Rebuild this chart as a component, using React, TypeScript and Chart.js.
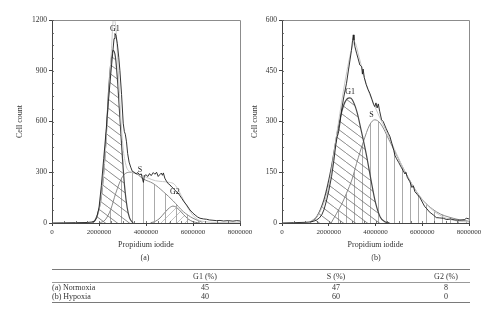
import React, { useEffect, useRef } from "react";
import { Chart, registerables } from "chart.js";
Chart.register(...registerables);

const FONT = "'Liberation Serif', 'DejaVu Serif', serif";
const X_MAX = 8000000;
const X_STEP = 2000000;
const MEGA = 1000000;

// ---------- Panel (a) Normoxia (x in millions) ----------
const histAX = [0, 0.5, 1.0, 1.5, 1.7, 1.8, 1.9, 2.0, 2.1, 2.2, 2.3, 2.4, 2.5, 2.58, 2.64, 2.68, 2.72, 2.78, 2.84, 2.89, 2.96, 3.03, 3.08, 3.12, 3.17, 3.22, 3.28, 3.35, 3.42, 3.5, 3.58, 3.65, 3.72, 3.8, 3.86, 3.89, 3.93, 4.0, 4.08, 4.15, 4.22, 4.31, 4.38, 4.45, 4.52, 4.58, 4.65, 4.7, 4.74, 4.8, 4.88, 4.95, 5.02, 5.1, 5.16, 5.27, 5.38, 5.52, 5.62, 5.73, 5.87, 6.0, 6.09, 6.2, 6.3, 6.45, 6.58, 6.7, 6.85, 7.0, 7.15, 7.3, 7.5, 7.7, 7.86, 8.0];
const histAY = [0, 1, 2, 3, 6, 10, 30, 90, 220, 380, 540, 720, 880, 1000, 1090, 1120, 1110, 1060, 980, 900, 760, 590, 540, 525, 480, 410, 360, 330, 305, 300, 290, 298, 285, 290, 255, 240, 280, 285, 275, 292, 280, 298, 288, 300, 275, 285, 295, 282, 296, 265, 245, 232, 225, 212, 205, 188, 175, 146, 125, 106, 77, 58, 47, 35, 28, 24, 22, 18, 16, 14, 15, 12, 14, 11, 14, 12];
const fitAX = [1.6, 1.8, 1.95, 2.1, 2.25, 2.4, 2.52, 2.62, 2.72, 2.82, 2.92, 3.02, 3.15, 3.3, 3.5, 3.8, 4.1, 4.4, 4.7, 5.0, 5.2, 5.4, 5.6, 5.8, 6.0, 6.2, 6.5, 7.0, 8.0];
const fitAY = [0, 12, 50, 160, 380, 720, 1000, 1210, 1150, 900, 640, 450, 340, 305, 298, 285, 265, 250, 245, 240, 230, 190, 135, 85, 45, 20, 8, 3, 1];
const g1AX = [1.7, 1.85, 2.0, 2.1, 2.2, 2.3, 2.4, 2.5, 2.6, 2.7, 2.8, 2.9, 3.0, 3.1, 3.2, 3.3, 3.45];
const g1AY = [0, 20, 80, 160, 300, 500, 760, 940, 1020, 980, 820, 600, 380, 200, 90, 30, 0];
const sAX = [2.0, 2.26, 2.5, 2.71, 3.0, 3.3, 3.6, 3.89, 4.3, 4.74, 5.16, 5.59, 6.0, 6.4];
const sAY = [0, 18, 80, 175, 274, 300, 290, 260, 234, 185, 130, 67, 28, 4];
const g2AX = [4.2, 4.4, 4.6, 4.8, 5.0, 5.15, 5.3, 5.5, 5.7, 5.9, 6.1, 6.3];
const g2AY = [2, 10, 30, 62, 90, 100, 92, 65, 35, 14, 4, 0];
const labelsA = ["G1", "S", "G2"];
const labelAX = [2.68, 3.74, 5.23];
const labelAY = [1146, 313, 183];

// ---------- Panel (b) Hypoxia (x in millions) ----------
const histBX = [0, 0.5, 1.0, 1.2, 1.35, 1.48, 1.6, 1.7, 1.8, 1.91, 2.0, 2.12, 2.22, 2.3, 2.36, 2.41, 2.48, 2.55, 2.65, 2.76, 2.85, 2.91, 2.97, 3.02, 3.05, 3.08, 3.12, 3.19, 3.26, 3.33, 3.41, 3.44, 3.47, 3.52, 3.6, 3.68, 3.76, 3.85, 3.92, 3.97, 4.02, 4.07, 4.12, 4.18, 4.26, 4.33, 4.45, 4.55, 4.62, 4.7, 4.78, 4.83, 4.9, 5.0, 5.1, 5.18, 5.26, 5.3, 5.36, 5.47, 5.56, 5.62, 5.68, 5.78, 5.9, 6.0, 6.11, 6.2, 6.3, 6.47, 6.6, 6.75, 6.9, 7.05, 7.2, 7.4, 7.6, 7.8, 7.9, 8.0];
const histBY = [0, 1, 2, 3, 5, 9, 15, 24, 40, 68, 95, 137, 185, 230, 255, 265, 295, 334, 375, 413, 455, 482, 510, 540, 556, 540, 521, 502, 485, 467, 462, 440, 455, 430, 410, 395, 383, 365, 350, 344, 355, 340, 352, 330, 305, 300, 280, 265, 255, 235, 215, 200, 190, 178, 165, 155, 145, 150, 135, 122, 105, 110, 93, 85, 75, 62, 48, 42, 33, 24, 16, 15, 14, 10, 12, 9, 8, 10, 14, 12];
const fitBX = [1.2, 1.6, 2.0, 2.4, 2.7, 3.0, 3.1, 3.3, 3.6, 4.0, 4.4, 4.8, 5.2, 5.6, 6.0, 6.5, 7.0, 7.5, 8.0];
const fitBY = [2, 30, 110, 290, 420, 520, 535, 490, 410, 340, 280, 220, 160, 110, 70, 35, 15, 6, 3];
const g1BX = [1.2, 1.5, 1.8, 2.1, 2.4, 2.6, 2.8, 2.9, 3.0, 3.2, 3.4, 3.6, 3.8, 4.0, 4.2, 4.4, 4.6];
const g1BY = [2, 20, 70, 160, 280, 340, 368, 370, 365, 330, 270, 205, 130, 60, 18, 4, 0];
const sBX = [2.1, 2.34, 2.55, 2.76, 3.0, 3.19, 3.48, 3.75, 3.97, 4.2, 4.62, 5.26, 5.9, 6.61, 7.32, 8.0];
const sBY = [0, 29, 55, 88, 130, 176, 240, 290, 305, 295, 240, 152, 78, 33, 14, 5];
const labelsB = ["G1", "S"];
const labelBX = [2.91, 3.83];
const labelBY = [388, 319];

// ---------- Table ----------
const tableHeads = ["G1 (%)", "S (%)", "G2 (%)"];
const tableRows = ["(a) Normoxia", "(b) Hypoxia"];
const tableG1 = [45, 40];
const tableS = [47, 60];
const tableG2 = [8, 0];

type Panel = {
  yMax: number;
  yStep: number;
  yAxisW: number;
  titlePad: number;
  padRight: number;
  stripe: number;
  series: { x: number[]; y: number[]; kind: string }[];
  labels: string[];
  labelX: number[];
  labelY: number[];
};

function hatch(ctx: CanvasRenderingContext2D, w: number, h: number, color: string, lw: number, flip: boolean) {
  const c = document.createElement("canvas");
  c.width = w;
  c.height = h;
  const g = c.getContext("2d")!;
  g.strokeStyle = color;
  g.lineWidth = lw;
  g.beginPath();
  for (let k = -1; k <= 1; k++) {
    if (!flip) {
      g.moveTo(k * w, 0);
      g.lineTo(k * w + w, h);
    } else {
      g.moveTo(k * w, h);
      g.lineTo(k * w + w, 0);
    }
  }
  g.stroke();
  return ctx.createPattern(c, "repeat")!;
}

function stripes(ctx: CanvasRenderingContext2D, w: number, color: string) {
  const c = document.createElement("canvas");
  c.width = w;
  c.height = 4;
  const g = c.getContext("2d")!;
  g.strokeStyle = color;
  g.lineWidth = 0.9;
  g.beginPath();
  g.moveTo(0.5, 0);
  g.lineTo(0.5, 4);
  g.stroke();
  return ctx.createPattern(c, "repeat")!;
}

function buildChart(canvas: HTMLCanvasElement, p: Panel) {
  const ctx = canvas.getContext("2d")!;
  const pts = (xs: number[], ys: number[]) => xs.map((x, i) => ({ x: x * MEGA, y: ys[i] }));
  const datasets = p.series.map((s) => {
    const base: any = {
      data: pts(s.x, s.y),
      pointRadius: 0,
      fill: false,
      borderWidth: 1,
    };
    if (s.kind === "hist") {
      base.borderColor = "#1e1e1e";
      base.borderWidth = 0.9;
      base.tension = 0;
    } else if (s.kind === "fit") {
      base.borderColor = "#c8c8c8";
      base.cubicInterpolationMode = "monotone";
    } else if (s.kind === "g1") {
      base.borderColor = "#474747";
      base.borderWidth = 1.2;
      base.cubicInterpolationMode = "monotone";
      base.fill = "origin";
      base.backgroundColor = hatch(ctx, 12, 9, "#666", 0.75, false);
    } else if (s.kind === "s") {
      base.borderColor = "#8a8a8a";
      base.cubicInterpolationMode = "monotone";
      base.fill = "origin";
      base.backgroundColor = stripes(ctx, p.stripe, "#a0a0a0");
    } else if (s.kind === "g2") {
      base.borderColor = "#808080";
      base.cubicInterpolationMode = "monotone";
      base.fill = "origin";
      base.backgroundColor = hatch(ctx, 8, 8, "#9a9a9a", 0.6, true);
    }
    return base;
  });

  const decor = {
    id: "decor",
    afterDraw(chart: any) {
      const c = chart.ctx;
      const a = chart.chartArea;
      const xs = chart.scales.x;
      const ys = chart.scales.y;
      c.save();
      c.strokeStyle = "#8c8c8c";
      c.lineWidth = 1;
      c.beginPath();
      c.moveTo(a.left, Math.round(a.top) + 0.5);
      c.lineTo(Math.round(a.right) + 0.5, Math.round(a.top) + 0.5);
      c.lineTo(Math.round(a.right) + 0.5, a.bottom);
      c.stroke();
      c.strokeStyle = "#555";
      c.lineWidth = 0.8;
      c.beginPath();
      for (let v = 0; v <= p.yMax + 1e-6; v += p.yStep / 4) {
        const py = Math.round(ys.getPixelForValue(v)) + 0.5;
        c.moveTo(a.left, py);
        c.lineTo(a.left + 2, py);
      }
      for (let v = 0; v <= X_MAX; v += X_STEP / 4) {
        const px = Math.round(xs.getPixelForValue(v)) + 0.5;
        c.moveTo(px, a.bottom);
        c.lineTo(px, a.bottom - 2);
      }
      c.stroke();
      c.fillStyle = "#222";
      c.font = `8px ${FONT}`;
      c.textAlign = "center";
      c.textBaseline = "middle";
      p.labels.forEach((t, i) => {
        c.fillText(t, xs.getPixelForValue(p.labelX[i] * MEGA), ys.getPixelForValue(p.labelY[i]));
      });
      c.restore();
    },
  };

  return new Chart(canvas, {
    type: "line",
    data: { datasets },
    plugins: [decor],
    options: {
      animation: false,
      responsive: false,
      parsing: false as any,
      layout: { padding: { top: 20, right: p.padRight, left: 0, bottom: 0 } },
      plugins: { legend: { display: false }, tooltip: { enabled: false } },
      scales: {
        x: {
          type: "linear",
          min: 0,
          max: X_MAX,
          ticks: {
            stepSize: X_STEP,
            autoSkip: false,
            maxRotation: 0,
            callback: (v: any) => String(v),
            font: { family: FONT, size: 7 },
            color: "#333",
            padding: 2,
          },
          grid: { drawOnChartArea: false, drawTicks: true, tickLength: 3, color: "#444" },
          border: { color: "#444", width: 1 },
          title: {
            display: true,
            text: "Propidium iodide",
            font: { family: FONT, size: 8 },
            color: "#333",
            padding: { top: 0, bottom: 3 },
          },
          afterFit: (s: any) => {
            s.height = 30;
          },
        },
        y: {
          type: "linear",
          min: 0,
          max: p.yMax,
          ticks: {
            stepSize: p.yStep,
            callback: (v: any) => String(v),
            font: { family: FONT, size: 7.5 },
            color: "#333",
            padding: 2,
          },
          grid: { drawOnChartArea: false, drawTicks: true, tickLength: 3, color: "#444" },
          border: { color: "#444", width: 1 },
          title: {
            display: true,
            text: "Cell count",
            font: { family: FONT, size: 8 },
            color: "#333",
            padding: { top: p.titlePad, bottom: 0 },
          },
          afterFit: (s: any) => {
            s.width = p.yAxisW;
          },
        },
      },
    },
  } as any);
}

const panelA: Panel = {
  yMax: 1200,
  yStep: 300,
  yAxisW: 52,
  titlePad: 15,
  padRight: 30,
  stripe: 11,
  series: [
    { x: histAX, y: histAY, kind: "hist" },
    { x: fitAX, y: fitAY, kind: "fit" },
    { x: g1AX, y: g1AY, kind: "g1" },
    { x: sAX, y: sAY, kind: "s" },
    { x: g2AX, y: g2AY, kind: "g2" },
  ],
  labels: labelsA,
  labelX: labelAX,
  labelY: labelAY,
};

const panelB: Panel = {
  yMax: 600,
  yStep: 150,
  yAxisW: 32,
  titlePad: 0,
  padRight: 31,
  stripe: 8,
  series: [
    { x: histBX, y: histBY, kind: "hist" },
    { x: fitBX, y: fitBY, kind: "fit" },
    { x: g1BX, y: g1BY, kind: "g1" },
    { x: sBX, y: sBY, kind: "s" },
  ],
  labels: labelsB,
  labelX: labelBX,
  labelY: labelBY,
};

function ChartCanvas({ panel, left, width }: { panel: Panel; left: number; width: number }) {
  const ref = useRef<HTMLCanvasElement>(null);
  useEffect(() => {
    const ch = buildChart(ref.current!, panel);
    return () => ch.destroy();
  }, [panel]);
  return (
    <canvas
      ref={ref}
      width={width}
      height={253}
      style={{ position: "absolute", left, top: 0, width, height: 253 }}
    />
  );
}

const txt: React.CSSProperties = {
  position: "absolute",
  fontFamily: FONT,
  fontSize: 8,
  color: "#333",
  lineHeight: "10px",
  whiteSpace: "nowrap",
  willChange: "transform",
};

function Centered({ x, y, children }: { x: number; y: number; children: React.ReactNode }) {
  return <div style={{ ...txt, left: x, top: y, transform: "translate(-50%, -50%)" }}>{children}</div>;
}

function LeftText({ x, y, children }: { x: number; y: number; children: React.ReactNode }) {
  return <div style={{ ...txt, left: x, top: y, transform: "translate(0.01px, -50%)" }}>{children}</div>;
}

export default function App() {
  const colX = [205, 336, 446];
  const rowY = [287.5, 296.5];
  return (
    <div style={{ position: "absolute", left: 0, top: 0, width: 500, height: 321, background: "#fff", overflow: "hidden" }}>
      <ChartCanvas panel={panelA} left={0} width={270} />
      <ChartCanvas panel={panelB} left={250} width={250} />
      <Centered x={145} y={258}>(a)</Centered>
      <Centered x={376} y={258}>(b)</Centered>
      <div style={{ position: "absolute", left: 52, top: 268.5, width: 418, height: 1.3, background: "#7a7a7a" }} />
      <div style={{ position: "absolute", left: 52, top: 281.5, width: 418, height: 0.8, background: "#999" }} />
      <div style={{ position: "absolute", left: 52, top: 302, width: 418, height: 1.3, background: "#7a7a7a" }} />
      {tableHeads.map((h, i) => (
        <Centered key={h} x={colX[i]} y={276.5}>{h}</Centered>
      ))}
      {tableRows.map((r, i) => (
        <React.Fragment key={r}>
          <LeftText x={52} y={rowY[i]}>{r}</LeftText>
          <Centered x={colX[0]} y={rowY[i]}>{tableG1[i]}</Centered>
          <Centered x={colX[1]} y={rowY[i]}>{tableS[i]}</Centered>
          <Centered x={colX[2]} y={rowY[i]}>{tableG2[i]}</Centered>
        </React.Fragment>
      ))}
    </div>
  );
}
